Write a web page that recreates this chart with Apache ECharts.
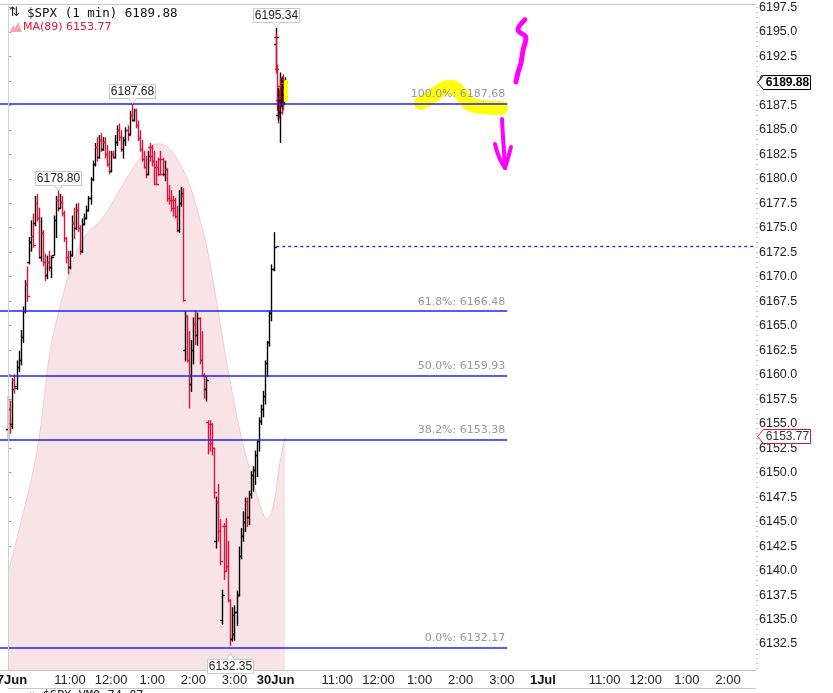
<!DOCTYPE html>
<html><head><meta charset="utf-8">
<script src="https://cdn.jsdelivr.net/npm/echarts@6/dist/echarts.min.js"></script>
<style>html,body{margin:0;padding:0;background:#fff;}#c{width:833px;height:693px;}</style>
</head><body><div id="c"></div>
<script>
// ---- axis ranges (minutes since 27 Jun 9:30; price) ----
const X_MIN = -12.1, X_MAX = 1090.9;
const Y_MIN = 6129.85, Y_MAX = 6197.84;

// ---- x tick labels ----
const xTickValues = [0, 90, 150, 210, 270, 330, 390, 480, 540, 600, 660, 720, 780, 870, 930, 990, 1050];
const xTickLabels = ['27Jun','11:00','12:00','1:00','2:00','3:00','30Jun','11:00','12:00','1:00','2:00','3:00','1Jul','11:00','12:00','1:00','2:00'];
const xDayLabels = ['27Jun','30Jun','1Jul'];

// ---- y tick labels ----
const yTickValues = [6132.5,6135,6137.5,6140,6142.5,6145,6147.5,6150,6152.5,6155,6157.5,6160,6162.5,6165,6167.5,6170,6172.5,6175,6177.5,6180,6182.5,6185,6187.5,6190,6192.5,6195,6197.5];

// ---- 27 Jun price bars, one per 3 minutes: [open, high, low, close] ----
const day1BarMinutes = 3;
const day1Bars = [
[6154.5,6157.8,6153.5,6156.5],[6156.5,6157.3,6154.0,6154.8],[6155.0,6159.6,6154.5,6158.5],[6159.5,6160.0,6158.1,6158.6],
[6158.8,6161.4,6158.5,6160.8],[6160.8,6162.4,6160.3,6161.5],[6161.5,6164.5,6161.0,6163.8],[6163.8,6166.9,6163.3,6166.5],
[6166.5,6169.6,6166.3,6169.3],[6169.3,6171.0,6167.5,6168.0],[6171.5,6174.0,6171.3,6173.5],[6173.5,6175.7,6172.6,6174.2],
[6174.2,6176.4,6173.0,6173.2],[6175.5,6178.2,6175.2,6177.5],[6177.5,6178.4,6175.7,6176.0],[6176.0,6177.0,6171.9,6172.0],
[6172.0,6176.0,6171.6,6174.5],[6174.5,6174.7,6171.1,6171.5],[6171.5,6172.3,6169.6,6170.2],[6170.2,6172.1,6169.8,6171.5],
[6171.5,6172.6,6170.6,6171.0],[6171.0,6172.1,6169.9,6172.0],[6172.2,6176.2,6172.2,6175.8],[6175.8,6178.2,6174.0,6177.8],
[6177.8,6178.8,6176.7,6177.0],[6177.0,6178.4,6177.0,6177.6],[6177.6,6178.2,6176.2,6176.5],[6176.5,6176.7,6173.6,6174.0],
[6174.0,6174.0,6171.4,6172.0],[6172.0,6172.6,6170.3,6171.0],[6171.0,6172.6,6170.8,6172.2],[6172.2,6176.2,6172.1,6175.5],
[6175.5,6177.0,6173.9,6175.0],[6175.0,6177.4,6174.8,6176.8],[6176.8,6177.5,6174.6,6175.0],[6175.0,6175.2,6172.3,6172.6],
[6172.6,6175.9,6172.5,6175.4],[6175.4,6176.4,6175.3,6176.0],[6176.0,6177.2,6175.9,6176.8],[6176.8,6178.2,6176.7,6178.0],
[6178.0,6180.1,6177.4,6180.0],[6180.0,6181.8,6179.8,6181.5],[6181.5,6183.6,6181.3,6183.2],[6183.2,6184.2,6181.8,6182.2],
[6182.2,6184.4,6182.1,6184.0],[6184.0,6184.6,6182.8,6183.0],[6183.0,6184.2,6182.9,6183.8],[6183.8,6184.2,6182.1,6182.5],
[6182.5,6183.4,6181.3,6181.5],[6181.5,6182.8,6180.5,6180.8],[6180.8,6182.8,6180.7,6182.5],[6182.5,6182.8,6182.1,6182.2],
[6182.2,6184.4,6182.1,6183.8],[6183.8,6185.4,6183.4,6185.0],[6185.0,6185.6,6183.9,6184.3],[6184.3,6184.9,6182.8,6183.0],
[6183.0,6184.2,6182.1,6184.0],[6184.0,6185.2,6183.4,6185.0],[6185.0,6185.4,6183.9,6184.5],[6184.6,6186.9,6184.5,6186.5],
[6186.5,6187.68,6185.9,6186.0],[6186.0,6187.1,6185.9,6187.0],[6187.0,6187.1,6185.2,6185.5],[6185.5,6185.9,6183.9,6184.2],
[6184.2,6184.9,6182.8,6183.0],[6183.0,6183.9,6181.8,6182.0],[6182.0,6182.8,6181.1,6181.2],[6181.2,6182.3,6180.1,6180.5],
[6180.5,6182.8,6180.4,6182.3],[6183.2,6183.6,6181.8,6182.3],[6183.2,6183.4,6181.3,6181.8],[6181.8,6182.8,6179.4,6179.5],
[6181.2,6181.8,6179.4,6179.5],[6181.2,6182.1,6180.3,6180.5],[6182.0,6182.8,6180.4,6180.5],[6182.0,6182.1,6180.3,6180.5],
[6180.5,6181.8,6179.8,6181.0],[6181.0,6181.0,6177.7,6178.0],[6178.0,6179.3,6177.4,6177.8],[6177.8,6178.8,6176.7,6177.0],
[6177.8,6178.2,6176.2,6177.0],[6177.8,6178.0,6176.0,6176.2],[6176.2,6177.2,6174.6,6174.8],[6174.8,6178.8,6174.5,6177.5],
[6177.5,6179.1,6177.2,6178.5],[6178.2,6179.0,6167.5,6167.6],[6162.5,6166.4,6161.4,6166.0],[6166.0,6166.0,6161.3,6161.5],
[6161.5,6164.4,6156.6,6159.0],[6159.0,6163.5,6158.3,6162.5],[6162.5,6165.8,6161.1,6165.2],[6165.2,6166.5,6163.1,6164.0],
[6164.0,6166.3,6163.0,6165.8],[6165.8,6165.8,6161.1,6161.5],[6161.5,6164.4,6159.8,6160.0],[6160.0,6160.1,6157.6,6158.5],
[6158.5,6159.8,6157.3,6159.5],[6155.2,6155.3,6151.9,6153.0],[6155.0,6155.3,6152.2,6153.0],[6155.0,6155.0,6151.8,6152.5],
[6152.5,6152.5,6147.4,6148.0],[6143.0,6147.5,6142.3,6147.0],[6147.0,6148.8,6143.0,6144.0],[6144.0,6145.2,6140.6,6141.0],
[6135.0,6138.0,6134.5,6137.5],[6144.5,6144.8,6139.1,6140.0],[6144.5,6145.3,6140.0,6140.5],[6140.5,6143.0,6136.8,6137.0],
[6137.0,6137.0,6132.35,6133.0],[6133.0,6136.2,6132.8,6135.5],[6133.5,6136.4,6132.9,6135.8],[6135.8,6137.9,6134.4,6137.5],
[6137.5,6142.4,6137.4,6141.5],[6141.5,6144.3,6141.2,6143.5],[6143.5,6146.0,6143.0,6145.0],[6145.0,6147.4,6144.0,6147.0],
[6147.0,6147.4,6144.5,6145.5],[6145.5,6148.1,6144.7,6147.8],[6147.8,6150.1,6147.4,6149.8],[6149.8,6150.6,6148.1,6150.3],
[6150.3,6152.2,6148.8,6151.8],[6151.8,6153.2,6149.6,6153.2],[6153.2,6155.6,6152.2,6155.3],[6155.3,6156.9,6154.9,6156.5],
[6156.5,6158.3,6155.7,6157.8],[6157.8,6161.4,6157.0,6161.2],[6161.2,6163.4,6159.8,6163.3],[6163.3,6166.5,6162.9,6166.3],
[6166.3,6171.2,6165.5,6170.8],[6170.8,6174.5,6170.6,6173.07]
];

// ---- 30 Jun 1-minute bars from minute 390: [open, high, low, close] ----
const day2StartMinute = 390;
const day2Bars = [
[6193.8,6195.34,6191.2,6194.5],[6194.5,6194.8,6190.8,6191.2],[6191.2,6191.6,6187.0,6188.0],[6188.0,6188.8,6185.7,6186.5],
[6186.5,6189.2,6186.0,6188.2],[6188.2,6189.0,6186.2,6186.8],[6186.8,6190.8,6183.7,6189.5],[6189.5,6190.2,6187.5,6188.0],
[6188.0,6190.2,6187.4,6189.6],[6189.6,6190.0,6186.6,6187.8],[6187.8,6190.4,6187.2,6189.8],[6189.8,6190.6,6187.0,6188.5],
[6188.5,6190.0,6187.6,6189.4],[6189.4,6190.3,6188.4,6189.88]
];

// ---- MA(89) ----
const maMinutes = [0,17,42,61,75,90,109,134,153,173,192,207,221,236,250,265,280,290,305,319,338,352,367,377,386,396,404];
const maValues = [6139.9,6144.5,6152.2,6162.4,6166.8,6170.6,6173.9,6175.7,6177.7,6180.1,6182.1,6183.35,6183.55,6183.0,6181.6,6179.3,6175.7,6172.9,6167.0,6161.1,6154.2,6150.4,6146.8,6145.3,6146.4,6150.9,6153.77];

// ---- Fibonacci retracement levels ----
const fibLevels = [6187.68, 6166.48, 6159.93, 6153.38, 6132.17];
const fibNames = ['100.0%', '61.8%', '50.0%', '38.2%', '0.0%'];
const fibEndMinute = 728;
const prevClose = 6173.07;
const prevCloseStart = 391;

// ---- high / low callouts ----
const calloutMinutes = [72, 180, 390, 324];
const calloutValues = [6178.80, 6187.68, 6195.34, 6132.35];
const calloutSide = [1, 1, 1, -1];

// ---- right-axis price tags ----
const lastPrice = 6189.88;
const lastMA = 6153.77;

// ---- hand-drawn annotations (minute, price) ----
const yellowMinutes = [602,618,633,647,659,671,688,710,719];
const yellowValues = [6187.74,6188.36,6189.17,6189.38,6188.77,6187.74,6187.33,6187.23,6187.23];
const barMarkMinutes = [405, 405];
const barMarkValues = [6188.0, 6189.9];
const magentaUpMinutes = [753.8,743.6,755.3,750.9,748.0,743.6,740.7];
const magentaUpValues = [6196.23,6195.20,6194.39,6193.06,6191.83,6190.81,6189.89];
const magentaShaftMinutes = [720.3,721.7,723.2,724.7];
const magentaShaftValues = [6186.11,6184.37,6182.84,6181.10];
const magentaBarbLMinutes = [710.1,715.9,724.7];
const magentaBarbLValues = [6183.55,6182.23,6181.10];
const magentaBarbRMinutes = [733.4,729.1,724.7];
const magentaBarbRValues = [6183.25,6182.12,6181.10];

// ---- build tables ----
const barData = day1Bars.map((b, i) => [i * day1BarMinutes].concat(b))
  .concat(day2Bars.map((b, i) => [day2StartMinute + i].concat(b)));
const zip = (a, b) => a.map((v, i) => [v, b[i]]);
const yMinorTicks = [];
for (let v = 6130; v <= 6197.5; v += 0.5) yMinorTicks.push(v);

const RED = '#dc143c', BLUE = '#2020ff', MAG = '#ff00ff';

function annoLine(xs, ys, color, width, z, opacity) {
  return { type: 'line', data: zip(xs, ys), smooth: 0.4, symbol: 'none', silent: true, z: z,
    lineStyle: { color: color, width: width, cap: 'round', join: 'round', opacity: opacity == null ? 1 : opacity } };
}

const chart = echarts.init(document.getElementById('c'), null, { renderer: 'canvas' });
const option = {
  animation: false,
  backgroundColor: '#fff',
  grid: { left: 0, right: 77, top: 4, bottom: 23, containLabel: false, outerBoundsMode: 'none' },
  xAxis: {
    type: 'value', min: X_MIN, max: X_MAX,
    axisLine: { show: true, onZero: false, lineStyle: { color: '#c4c4c4' } },
    axisTick: { show: false }, splitLine: { show: false },
    axisLabel: {
      customValues: xTickValues, hideOverlap: false, margin: 4,
      color: '#222', fontSize: 13, fontFamily: 'Liberation Sans',
      formatter: function (v) {
        const t = xTickLabels[xTickValues.indexOf(v)];
        return xDayLabels.indexOf(t) >= 0 ? '{b|' + t + '}' : t;
      },
      rich: { b: { fontWeight: 'bold', fontSize: 13, fontFamily: 'Liberation Sans', color: '#111' } }
    }
  },
  yAxis: [{
    type: 'value', position: 'right', min: Y_MIN, max: Y_MAX,
    axisLine: { show: true, lineStyle: { color: '#b4b4b4' } },
    axisTick: { show: true, customValues: yTickValues, length: 3, lineStyle: { color: '#999' } },
    axisLabel: { customValues: yTickValues, formatter: v => v.toFixed(1), color: '#222', fontSize: 12.5, fontFamily: 'Liberation Sans', margin: 3 },
    splitLine: { show: false }
  }, {
    type: 'value', position: 'right', min: Y_MIN, max: Y_MAX,
    axisLine: { show: false },
    axisTick: { show: true, customValues: yMinorTicks, length: 2, lineStyle: { color: '#c4c4c4' } },
    axisLabel: { show: false }, splitLine: { show: false }
  }],
  series: [
    { // MA(89) shaded area
      type: 'line', data: zip(maMinutes, maValues), smooth: 0.35, symbol: 'none', silent: true, z: 1,
      lineStyle: { color: '#f2cdd1', width: 1 },
      areaStyle: { color: '#f8e4e6', opacity: 1, origin: 'start' }
    },
    { // OHLC bars
      type: 'custom', z: 2, clip: true, silent: true,
      data: barData, encode: { x: 0, y: [1, 2, 3, 4] },
      renderItem: function (params, api) {
        const x = api.value(0), o = api.value(1), h = api.value(2), l = api.value(3), c = api.value(4);
        const pH = api.coord([x, h]), pL = api.coord([x, l]), pO = api.coord([x, o]), pC = api.coord([x, c]);
        const px = Math.round(pH[0]) + 0.5;
        const col = c >= o ? '#000' : RED;
        const yo = Math.round(pO[1]) + 0.5, yc = Math.round(pC[1]) + 0.5;
        const st = { stroke: col, lineWidth: 1.4 };
        return { type: 'group', children: [
          { type: 'line', shape: { x1: px, y1: pH[1] - 0.5, x2: px, y2: pL[1] + 0.5 }, style: st },
          { type: 'line', shape: { x1: px - 2.5, y1: yo, x2: px, y2: yo }, style: st },
          { type: 'line', shape: { x1: px, y1: yc, x2: px + 2.5, y2: yc }, style: st }
        ] };
      }
    },
    annoLine(yellowMinutes, yellowValues, '#ffff00', 14, 3, 0.95),
    annoLine(barMarkMinutes, barMarkValues, '#ffff00', 4, 3),
    { // Fibonacci lines, previous close, day separator
      type: 'line', data: [[X_MIN, Y_MIN]], symbol: 'none', lineStyle: { opacity: 0 }, silent: true, z: 4,
      markLine: {
        silent: true, symbol: ['none', 'none'], animation: false,
        data: fibLevels.map((v, i) => [
          { coord: [X_MIN, v], lineStyle: { color: BLUE, width: 1.6, type: 'solid' },
            label: { show: true, position: 'insideEndTop', distance: [2, 4], formatter: fibNames[i] + ': ' + v.toFixed(2),
              color: '#999', fontSize: 11, fontFamily: 'DejaVu Sans' } },
          { coord: [fibEndMinute, v] }
        ]).concat([
          [{ coord: [prevCloseStart, prevClose], lineStyle: { color: BLUE, width: 1.3, type: [3, 3] }, label: { show: false } },
           { coord: [X_MAX, prevClose] }],
          [{ coord: [-0.5, Y_MIN], lineStyle: { color: '#d0d0d0', width: 1, type: 'solid' }, label: { show: false } },
           { coord: [-0.5, Y_MAX] }]
        ])
      }
    },
    annoLine(magentaUpMinutes, magentaUpValues, MAG, 5, 5),
    annoLine(magentaShaftMinutes, magentaShaftValues, MAG, 4, 5),
    annoLine(magentaBarbLMinutes, magentaBarbLValues, MAG, 4, 5),
    annoLine(magentaBarbRMinutes, magentaBarbRValues, MAG, 4, 5),
    { // high / low callouts
      type: 'custom', z: 6, clip: false, silent: true,
      data: calloutMinutes.map((m, i) => [m, calloutValues[i], calloutSide[i]]),
      encode: { x: 0, y: 1 },
      renderItem: function (params, api) {
        const p = api.coord([api.value(0), api.value(1)]);
        const side = api.value(2);
        const w = 46, hgt = 14;
        const cx = Math.round(p[0]) + 0.5;
        let by, tri;
        if (side > 0) {
          by = Math.round(p[1] - 6 - hgt) + 0.5;
          tri = [[cx - 4, by + hgt], [cx + 4, by + hgt], [cx, by + hgt + 5]];
        } else {
          by = Math.round(p[1] + 13) + 0.5;
          tri = [[cx - 4, by], [cx + 4, by], [cx, by - 6]];
        }
        return { type: 'group', children: [
          { type: 'rect', shape: { x: cx - w / 2, y: by, width: w, height: hgt }, style: { fill: '#fff', stroke: '#c8c8c8', lineWidth: 1 } },
          { type: 'polyline', shape: { points: tri.slice(0, 1).concat([tri[2], tri[1]]) }, style: { fill: '#fff', stroke: '#c8c8c8', lineWidth: 1 } },
          { type: 'text', style: { text: api.value(1).toFixed(2), x: cx, y: by + hgt / 2 + 0.5, align: 'center', verticalAlign: 'middle',
            fill: '#222', fontSize: 12, fontFamily: 'Liberation Sans' } }
        ] };
      }
    },
    { // price tags on the axis
      type: 'custom', z: 7, clip: false, silent: true,
      data: [[X_MAX, lastPrice, 1], [X_MAX, lastMA, 0]],
      encode: { x: 0, y: 1 },
      renderItem: function (params, api) {
        const p = api.coord([api.value(0), api.value(1)]);
        const ax = Math.round(p[0]) + 0.5, y = Math.round(p[1]) + 0.5;
        const main = api.value(2) === 1;
        const pts = [[ax + 1, y], [ax + 7, y - 7], [ax + 54, y - 7], [ax + 54, y + 7], [ax + 7, y + 7]];
        return { type: 'group', children: [
          { type: 'polygon', shape: { points: pts }, style: { fill: '#fff', stroke: main ? '#000' : RED, lineWidth: 1 } },
          { type: 'text', style: { text: api.value(1).toFixed(2), x: ax + 31, y: y + 0.5, align: 'center', verticalAlign: 'middle',
            fill: main ? '#000' : '#333', fontSize: 12, fontWeight: main ? 'bold' : 'normal', fontFamily: 'Liberation Sans' } }
        ] };
      }
    }
  ],
  graphic: [
    { type: 'line', silent: true, shape: { x1: 0, y1: 4.5, x2: 756, y2: 4.5 }, style: { stroke: '#c8c8c8', lineWidth: 1 } },
    { type: 'text', silent: true, x: 9, y: 6, style: { text: '⇅', font: '13px "DejaVu Sans"', fill: '#222' } },
    { type: 'text', silent: true, x: 27, y: 7, style: { text: '$SPX (1 min) 6189.88', font: '12.5px "DejaVu Sans Mono"', fill: '#111' } },
    { type: 'polygon', silent: true, shape: { points: [[10, 32], [13, 25], [15, 28], [18, 22], [22, 32]] }, style: { fill: '#f2a8b3' } },
    { type: 'text', silent: true, x: 23, y: 22, style: { text: 'MA(89) 6153.77', font: '11px "DejaVu Sans"', fill: '#e0143c' } },
    { type: 'line', silent: true, shape: { x1: 8, y1: 688.5, x2: 756, y2: 688.5 }, style: { stroke: '#c8c8c8', lineWidth: 1 } },
    { type: 'text', silent: true, x: 28, y: 690, style: { text: '⇅ $SPX VMO 74.07', font: '12px "DejaVu Sans Mono"', fill: '#222' } }
  ]
};
chart.setOption(option);
</script>
</body></html>
